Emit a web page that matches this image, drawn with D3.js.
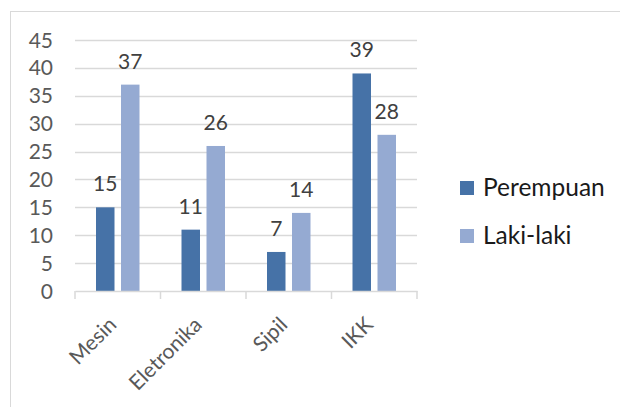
<!DOCTYPE html>
<html>
<head>
<meta charset="utf-8">
<script src="https://cdn.jsdelivr.net/npm/d3@7"></script>
<style>
  html, body { margin: 0; padding: 0; background: #fff; }
  svg { display: block; font-family: Lato, "Open Sans", sans-serif; }
</style>
</head>
<body>
<svg id="chart" width="620" height="407"></svg>
<script>
// Jurusan dan jumlah per jenis kelamin
const categories = ["Mesin", "Eletronika", "Sipil", "IKK"];
const seriesNames = ["Perempuan", "Laki-laki"];
const perempuan = [15, 11, 7, 39];
const lakiLaki = [37, 26, 14, 28];
const yTicks = [0, 5, 10, 15, 20, 25, 30, 35, 40, 45];

const colors = { "Perempuan": "#4672a7", "Laki-laki": "#95aad2" };
const values = { "Perempuan": perempuan, "Laki-laki": lakiLaki };

const svg = d3.select("#chart");

// outer chart frame
svg.append("rect")
  .attr("x", 10.5).attr("y", 11.5)
  .attr("width", 640).attr("height", 420)
  .attr("fill", "none").attr("stroke", "#d9d9d9").attr("stroke-width", 1);

const plot = { left: 75, right: 417, top: 40, bottom: 291 };

const y = d3.scaleLinear().domain([0, 45]).range([plot.bottom, plot.top]);
const x0 = d3.scaleBand().domain(categories).range([plot.left, plot.right]).padding(0);
const x1 = d3.scaleBand().domain(seriesNames).range([0, x0.bandwidth()])
  .paddingInner(0.26).paddingOuter(0.84);

// horizontal gridlines
svg.append("g").selectAll("line")
  .data(yTicks.filter(t => t > 0))
  .join("line")
  .attr("x1", plot.left).attr("x2", plot.right)
  .attr("y1", d => Math.round(y(d)) + 0.5).attr("y2", d => Math.round(y(d)) + 0.5)
  .attr("stroke", "#d9d9d9").attr("stroke-width", 1.5);

// y tick labels
svg.append("g").selectAll("text")
  .data(yTicks)
  .join("text")
  .attr("x", 53).attr("y", d => y(d))
  .attr("dy", "0.36em")
  .attr("text-anchor", "end")
  .attr("font-size", 21)
  .attr("fill", "#595959")
  .text(d => d);

// bars
const groups = svg.append("g").selectAll("g")
  .data(categories)
  .join("g")
  .attr("transform", d => `translate(${x0(d)},0)`);

groups.selectAll("rect")
  .data((c, i) => seriesNames.map(s => ({ s, v: values[s][i] })))
  .join("rect")
  .attr("x", d => x1(d.s))
  .attr("y", d => y(d.v))
  .attr("width", x1.bandwidth())
  .attr("height", d => y(0) - y(d.v))
  .attr("fill", d => colors[d.s]);

// value labels
groups.selectAll("text")
  .data((c, i) => seriesNames.map(s => ({ s, v: values[s][i] })))
  .join("text")
  .attr("x", d => x1(d.s) + x1.bandwidth() / 2)
  .attr("y", d => y(d.v) - 16)
  .attr("text-anchor", "middle")
  .attr("font-size", 21)
  .attr("fill", "#404040")
  .text(d => d.v);

// x axis line and ticks
const xAxis = d3.axisBottom(x0).tickSize(0).tickFormat("");
const axisG = svg.append("g").attr("transform", `translate(0,${plot.bottom})`).call(xAxis);
axisG.select(".domain").attr("stroke", "#d9d9d9").attr("stroke-width", 1.5);
const tickPos = categories.map(c => x0(c)).concat([plot.right]);
axisG.selectAll("line.sep")
  .data(tickPos)
  .join("line")
  .attr("class", "sep")
  .attr("x1", d => d).attr("x2", d => d)
  .attr("y1", 0).attr("y2", 8)
  .attr("stroke", "#d9d9d9").attr("stroke-width", 1.5);

// rotated category labels
svg.append("g").selectAll("text")
  .data(categories)
  .join("text")
  .attr("transform", d => `translate(${x0(d) + x0.bandwidth() / 2},${plot.bottom + 35}) rotate(-45)`)
  .attr("text-anchor", "end")
  .attr("font-size", 21)
  .attr("fill", "#595959")
  .text(d => d);

// legend
const legend = svg.append("g").selectAll("g")
  .data(seriesNames)
  .join("g")
  .attr("transform", (d, i) => `translate(460,${181 + i * 48})`);
legend.append("rect")
  .attr("width", 14).attr("height", 14)
  .attr("fill", d => colors[d]);
legend.append("text")
  .attr("x", 23).attr("y", 15)
  .attr("font-size", 24.5)
  .attr("fill", "#1a1a1a")
  .text(d => d);
</script>
</body>
</html>
